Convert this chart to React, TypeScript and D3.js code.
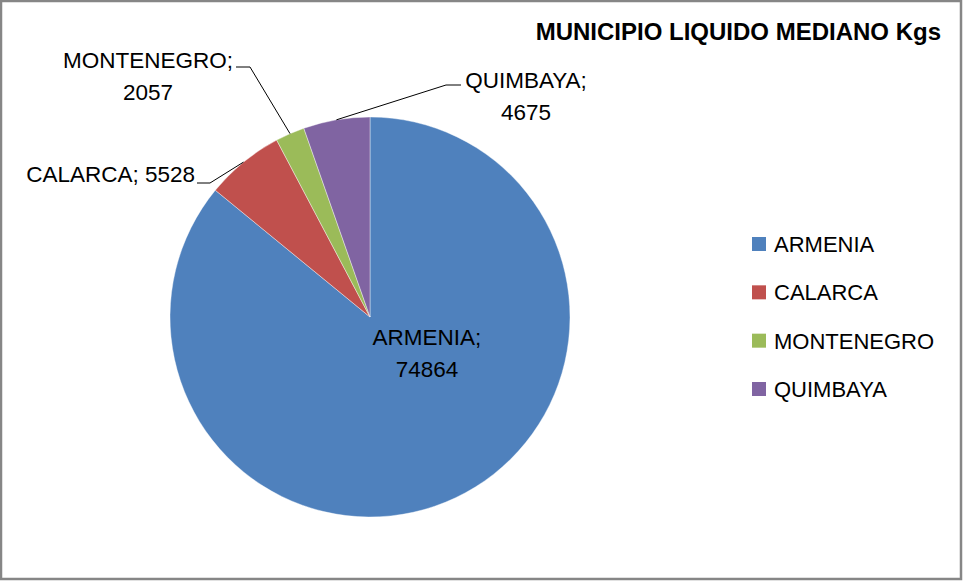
import React from 'react';
import * as d3 from 'd3';

const municipios = ['ARMENIA', 'CALARCA', 'MONTENEGRO', 'QUIMBAYA'];
const kilos = [74864, 5528, 2057, 4675];
const colores = ['#4F81BD', '#C0504D', '#9BBB59', '#8064A2'];
const titulo = 'MUNICIPIO LIQUIDO MEDIANO Kgs';

const W = 963;
const H = 581;
const cx = 370;
const cy = 317;
const radio = 200;
const fuente = '"Liberation Sans", Arial, sans-serif';

// posiciones de las etiquetas de datos (codo de la guia y texto)
const etiquetas: Record<string, { lineas: string[]; x: number; y: number; anchor: string; codo?: [number, number]; fin?: [number, number] }> = {
  ARMENIA: { lineas: ['ARMENIA;', '74864'], x: 427, y: 345, anchor: 'middle' },
  CALARCA: { lineas: ['CALARCA; 5528'], x: 195, y: 182, anchor: 'end', codo: [210, 183], fin: [197, 183] },
  MONTENEGRO: { lineas: ['MONTENEGRO;', '2057'], x: 148, y: 68, anchor: 'middle', codo: [250, 67], fin: [236, 67] },
  QUIMBAYA: { lineas: ['QUIMBAYA;', '4675'], x: 526, y: 88, anchor: 'middle', codo: [446, 85], fin: [461, 85] },
};

const App = () => {
  const datos = municipios.map((m, i) => ({ nombre: m, valor: kilos[i] }));
  const pie = d3.pie<{ nombre: string; valor: number }>().sort(null).value((d) => d.valor);
  const arcos = pie(datos);
  const arc = d3.arc<d3.PieArcDatum<{ nombre: string; valor: number }>>().innerRadius(0).outerRadius(radio);
  const color = d3.scaleOrdinal<string, string>().domain(municipios).range(colores);
  const filaY = d3.scalePoint<string>().domain(municipios).range([244, 389]);

  return (
    <svg width={W} height={H} style={{ position: 'absolute', left: 0, top: 0, background: '#fff' }}>
      <rect x={1} y={1} width={W - 3} height={H - 3} fill="#fff" stroke="#868686" strokeWidth={2.5} />
      <text x={941} y={40} textAnchor="end" fontFamily={fuente} fontWeight="bold" fontSize={24} fill="#000">
        {titulo}
      </text>
      <g transform={`translate(${cx},${cy})`}>
        {arcos.map((a) => (
          <path key={a.data.nombre} d={arc(a) || ''} fill={color(a.data.nombre)} stroke="#fff" strokeWidth={0.4} />
        ))}
      </g>
      {arcos.map((a) => {
        const e = etiquetas[a.data.nombre];
        if (!e.codo || !e.fin) return null;
        const medio = (a.startAngle + a.endAngle) / 2;
        const px = cx + radio * Math.sin(medio);
        const py = cy - radio * Math.cos(medio);
        const puntos = [[px, py], e.codo, e.fin] as [number, number][];
        return <path key={a.data.nombre + '-guia'} d={d3.line()(puntos) || ''} fill="none" stroke="#000" strokeWidth={1} />;
      })}
      {arcos.map((a) => {
        const e = etiquetas[a.data.nombre];
        return (
          <text key={a.data.nombre + '-txt'} x={e.x} y={e.y} textAnchor={e.anchor} fontFamily={fuente} fontSize={22.5} fill="#000">
            {e.lineas.map((l, i) => (
              <tspan key={i} x={e.x} dy={i === 0 ? 0 : 31.5}>
                {l}
              </tspan>
            ))}
          </text>
        );
      })}
      {municipios.map((m) => (
        <g key={m + '-ley'} transform={`translate(752,${filaY(m)})`}>
          <rect x={0} y={-7} width={14} height={14} fill={color(m)} />
          <text x={22} y={8} fontFamily={fuente} fontSize={22} fill="#000">
            {m}
          </text>
        </g>
      ))}
    </svg>
  );
};

export default App;
